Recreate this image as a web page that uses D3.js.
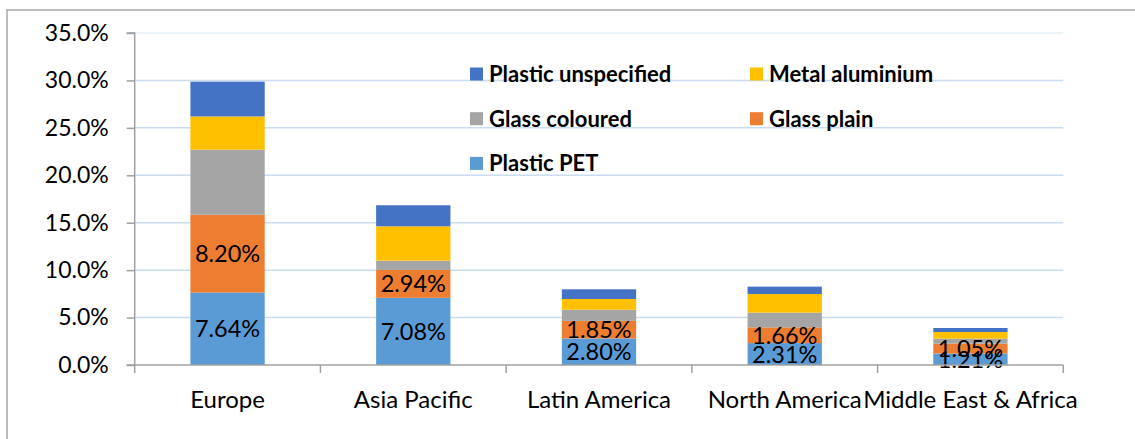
<!DOCTYPE html>
<html>
<head>
<meta charset="utf-8">
<script src="https://cdn.jsdelivr.net/npm/d3@7"></script>
<style>
  html, body { margin: 0; padding: 0; background: #fff; }
  svg { display: block; }
  text { font-family: Lato, "Open Sans", sans-serif; fill: #000; }
</style>
</head>
<body>
<svg id="chart" width="1135" height="439"></svg>
<script>
// Regions along the x axis
const regions = ["Europe", "Asia Pacific", "Latin America", "North America", "Middle East & Africa"];

// Share of each packaging type per region (percent)
const plasticPET          = [7.64, 7.08, 2.80, 2.31, 1.21];
const glassPlain          = [8.20, 2.94, 1.85, 1.66, 1.05];
const glassColoured       = [6.86, 0.98, 1.18, 1.55, 0.51];
const metalAluminium      = [3.50, 3.62, 1.13, 1.96, 0.71];
const plasticUnspecified  = [3.67, 2.22, 1.02, 0.78, 0.42];

// Series in stacking order (bottom to top)
const seriesNames  = ["Plastic PET", "Glass plain", "Glass coloured", "Metal aluminium", "Plastic unspecified"];
const seriesValues = [plasticPET, glassPlain, glassColoured, metalAluminium, plasticUnspecified];
const seriesColors = ["#5B9BD5", "#ED7D31", "#A5A5A5", "#FFC000", "#4472C4"];
// Series whose values are printed on the bars
const labelledSeries = ["Plastic PET", "Glass plain"];

// Value axis ticks
const yTicks = [0, 5, 10, 15, 20, 25, 30, 35];

// Legend layout: rows of entries
const legendRows = [
  ["Plastic unspecified", "Metal aluminium"],
  ["Glass coloured", "Glass plain"],
  ["Plastic PET"]
];

const svg = d3.select("#chart");

// Outer frame (top and left edges)
svg.append("path")
  .attr("d", "M7,439 V10 H1135")
  .attr("fill", "none")
  .attr("stroke", "#A6A6A6")
  .attr("stroke-width", 1.5);

const plot = { left: 134.7, right: 1063.3, top: 33, bottom: 365 };

const x = d3.scaleBand().domain(regions).range([plot.left, plot.right]).padding(0);
const y = d3.scaleLinear().domain([0, 35]).range([plot.bottom, plot.top]);
const barW = x.bandwidth() * 0.4;

// Horizontal gridlines
svg.append("g")
  .selectAll("line")
  .data(yTicks.filter(d => d > 0))
  .join("line")
  .attr("x1", plot.left).attr("x2", plot.right)
  .attr("y1", d => y(d)).attr("y2", d => y(d))
  .attr("stroke", d => d === 35 ? "#E6EFF9" : "#C9DCF0")
  .attr("stroke-width", 1.5);

// Stack the data
const rows = regions.map((r, i) => {
  const o = { region: r };
  seriesNames.forEach((s, k) => { o[s] = seriesValues[k][i]; });
  return o;
});
const stacked = d3.stack().keys(seriesNames)(rows);

const color = d3.scaleOrdinal().domain(seriesNames).range(seriesColors);

const layers = svg.append("g")
  .selectAll("g")
  .data(stacked)
  .join("g")
  .attr("fill", d => color(d.key));

layers.selectAll("rect")
  .data(d => d)
  .join("rect")
  .attr("x", d => x(d.data.region) + (x.bandwidth() - barW) / 2)
  .attr("width", barW)
  .attr("y", d => y(d[1]))
  .attr("height", d => y(d[0]) - y(d[1]));

// Value labels on the lower two segments
svg.append("g")
  .selectAll("g")
  .data(stacked.filter(s => labelledSeries.includes(s.key)))
  .join("g")
  .selectAll("text")
  .data(d => d.map(v => ({ v, key: d.key })))
  .join("text")
  .attr("x", d => x(d.v.data.region) + x.bandwidth() / 2)
  .attr("y", d => y((d.v[0] + d.v[1]) / 2))
  .attr("dy", "0.36em")
  .attr("text-anchor", "middle")
  .style("font-size", "23.5px")
  .text(d => d.v.data[d.key].toFixed(2) + "%");

// Y axis
const yAxis = d3.axisLeft(y)
  .tickValues(yTicks)
  .tickSize(8)
  .tickPadding(18)
  .tickFormat(d => d.toFixed(1) + "%");

const gy = svg.append("g")
  .attr("transform", `translate(${plot.left},0)`)
  .call(yAxis);
gy.select(".domain").attr("stroke", "#A0A0A0").attr("stroke-width", 1.5)
  .attr("d", `M-8,${plot.top}H0V${plot.bottom}H-8`);
gy.selectAll(".tick line").attr("stroke", "#A0A0A0").attr("stroke-width", 1.5);
gy.selectAll(".tick text").style("font-size", "23px").style("font-family", "Lato, sans-serif").attr("fill", "#000");

// X axis: baseline, ticks at band boundaries, labels at band centres
const gx = svg.append("g");
gx.append("line")
  .attr("x1", plot.left).attr("x2", plot.right)
  .attr("y1", plot.bottom).attr("y2", plot.bottom)
  .attr("stroke", "#A0A0A0").attr("stroke-width", 1.5);
const edges = regions.map(r => x(r)).concat([x(regions[regions.length - 1]) + x.bandwidth()]);
gx.selectAll("line.tick")
  .data(edges)
  .join("line")
  .attr("class", "tick")
  .attr("x1", d => d).attr("x2", d => d)
  .attr("y1", plot.bottom).attr("y2", plot.bottom + 8)
  .attr("stroke", "#A0A0A0").attr("stroke-width", 1.5);
gx.selectAll("text")
  .data(regions)
  .join("text")
  .attr("x", d => x(d) + x.bandwidth() / 2)
  .attr("y", 408)
  .attr("text-anchor", "middle")
  .style("font-size", "24px")
  .text(d => d);

// Legend
const legendX = [470, 750];
const legendY0 = 74, legendDy = 44.7, sw = 13;
const legend = svg.append("g");
legendRows.forEach((row, ri) => {
  row.forEach((name, ci) => {
    const g = legend.append("g")
      .attr("transform", `translate(${legendX[ci]},${legendY0 + ri * legendDy})`);
    g.append("rect")
      .attr("x", 0).attr("y", -sw / 2)
      .attr("width", sw).attr("height", sw)
      .attr("fill", color(name));
    g.append("text")
      .attr("x", 19).attr("dy", "0.36em")
      .style("font-size", "22px")
      .style("font-weight", "bold")
      .text(name);
  });
});
</script>
</body>
</html>
